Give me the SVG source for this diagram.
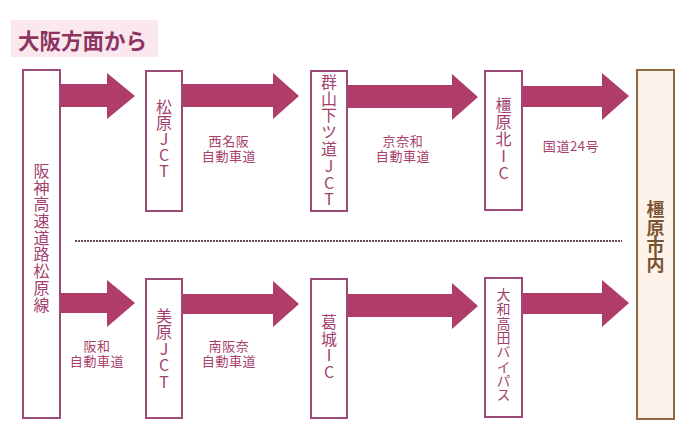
<svg xmlns="http://www.w3.org/2000/svg" width="700" height="447" viewBox="0 0 700 447">
<style>
.box{fill:#fff;stroke:#9b4a76;stroke-width:2}
.city{fill:#fdf3ea;stroke:#8d6a45;stroke-width:2}
.vt{font-family:"Noto Sans CJK JP","Noto Sans",sans-serif;font-size:16px;fill:#a23f6d;writing-mode:vertical-rl;text-orientation:upright;text-anchor:middle}
.lbl{font-family:"Noto Sans CJK JP","Noto Sans",sans-serif;font-size:13px;fill:#a83f6c;text-anchor:middle;letter-spacing:0.6px}
.arr{fill:#b03c6a}
</style>
<rect x="11" y="20" width="147" height="37" fill="#fbe8ef"/>
<text x="18" y="49" font-family="Noto Sans CJK JP,sans-serif" font-weight="bold" font-size="21.5" fill="#8c3560">大阪方面から</text>

<g id="connectors">
<path class="arr" d="M60 84H107V73L135 96L107 119V107H60Z"/>
<path class="arr" d="M182 84H273V73L299 96L273 119V107H182Z"/>
<path class="arr" d="M347 85H452V74L478 97L452 120V108H347Z"/>
<path class="arr" d="M522 86H602V73L629 96L602 120V107H522Z"/>
<path class="arr" d="M60 293H107V280L135 303L107 327V313H60Z"/>
<path class="arr" d="M182 294H273V281L299 304L273 327V314H182Z"/>
<path class="arr" d="M347 294H452V283L478 306L452 329V317H347Z"/>
<path class="arr" d="M522 293H602V280L629 303L602 327V314H522Z"/>
<line x1="75" y1="241" x2="622" y2="241" stroke="#6e4a5e" stroke-width="2" stroke-dasharray="2 1"/>
<text class="lbl"><tspan x="229" y="145.5">西名阪</tspan><tspan x="229" y="160.5">自動車道</tspan></text>
<text class="lbl"><tspan x="403" y="145.5">京奈和</tspan><tspan x="403" y="160.5">自動車道</tspan></text>
<text class="lbl" x="571" y="151">国道24号</text>
<text class="lbl"><tspan x="97" y="351">阪和</tspan><tspan x="97" y="366">自動車道</tspan></text>
<text class="lbl"><tspan x="229" y="351">南阪奈</tspan><tspan x="229" y="366">自動車道</tspan></text>
</g>

<g id="hanshin">
<rect class="box" x="23" y="70" width="37" height="348"/>
<text class="vt" x="41.5" y="238" letter-spacing="0.7">阪神高速道路松原線</text>
</g>
<g id="matsubara">
<rect class="box" x="146" y="71" width="36" height="140"/>
<text class="vt" x="164" y="139">松原JCT</text>
</g>
<g id="koriyama">
<rect class="box" x="311" y="71" width="36" height="140"/>
<text class="vt" x="329" y="141" letter-spacing="0.8">群山下ツ道JCT</text>
</g>
<g id="kashiharakita">
<rect class="box" x="485" y="71" width="37" height="139"/>
<text class="vt" x="503.5" y="139.5" letter-spacing="1">橿原北IC</text>
</g>
<g id="mihara">
<rect class="box" x="146" y="279" width="36" height="139"/>
<text class="vt" x="164" y="349" letter-spacing="0.4">美原JCT</text>
</g>
<g id="katsuragi">
<rect class="box" x="311" y="279" width="36" height="139"/>
<text class="vt" x="329" y="347" letter-spacing="0.5">葛城IC</text>
</g>
<g id="yamato">
<rect class="box" x="485" y="278" width="37" height="139"/>
<text class="vt" x="503.5" y="345" style="font-size:14px" letter-spacing="0.3">大和高田バイパス</text>
</g>
<g id="kashihara">
<rect class="city" x="637" y="70" width="37" height="349"/>
<text class="vt" x="655.5" y="237" style="font-size:18px;font-weight:bold;fill:#7a5432" letter-spacing="0.3">橿原市内</text>
</g>
</svg>
